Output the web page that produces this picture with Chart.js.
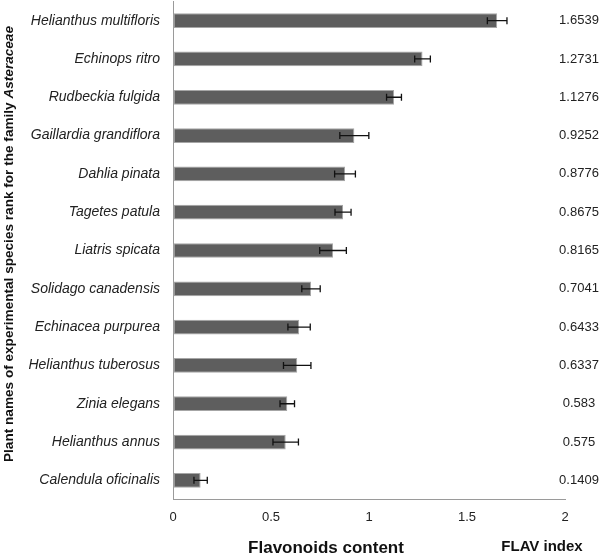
<!DOCTYPE html>
<html>
<head>
<meta charset="utf-8">
<script src="https://cdn.jsdelivr.net/npm/chart.js@4.4.1/dist/chart.umd.min.js"></script>
<style>
  html, body { margin: 0; padding: 0; background: #fff; }
  #wrap { width: 600px; height: 556px; position: relative; }
</style>
</head>
<body>
<div id="wrap"><canvas id="flavChart"></canvas></div>
<script>
// species, top to bottom
const species = [
  "Helianthus multifloris",
  "Echinops ritro",
  "Rudbeckia fulgida",
  "Gaillardia grandiflora",
  "Dahlia pinata",
  "Tagetes patula",
  "Liatris spicata",
  "Solidago canadensis",
  "Echinacea purpurea",
  "Helianthus tuberosus",
  "Zinia elegans",
  "Helianthus annus",
  "Calendula oficinalis"
];

// flavonoids content (FLAV index)
const flavValues = [1.6539, 1.2731, 1.1276, 0.9252, 0.8776, 0.8675, 0.8165, 0.7041, 0.6433, 0.6337, 0.583, 0.575, 0.1409];

// labels printed on the right, as in the figure
const flavLabels = ["1.6539", "1.2731", "1.1276", "0.9252", "0.8776", "0.8675", "0.8165", "0.7041", "0.6433", "0.6337", "0.583", "0.575", "0.1409"];

// error bar half widths
const flavErrors = [0.05, 0.04, 0.038, 0.074, 0.053, 0.041, 0.068, 0.047, 0.057, 0.07, 0.037, 0.065, 0.034];

// x axis
const xMin = 0;
const xMax = 2;
const xStep = 0.5;

const FONT = "'Liberation Sans', Arial, sans-serif";

// error bars + right labels + axis titles
const extrasPlugin = {
  id: "extras",
  afterDatasetsDraw(chart) {
    const { ctx, chartArea, scales } = chart;
    const x = scales.x, y = scales.y;

    // error bars
    ctx.save();
    ctx.strokeStyle = "#111";
    ctx.lineWidth = 1.3;
    flavValues.forEach((v, i) => {
      const yc = y.getPixelForValue(i);
      const x1 = x.getPixelForValue(v - flavErrors[i]);
      const x2 = x.getPixelForValue(v + flavErrors[i]);
      ctx.beginPath();
      ctx.moveTo(x1, yc); ctx.lineTo(x2, yc);
      ctx.moveTo(x1, yc - 3.5); ctx.lineTo(x1, yc + 3.5);
      ctx.moveTo(x2, yc - 3.5); ctx.lineTo(x2, yc + 3.5);
      ctx.stroke();
    });
    ctx.restore();

    // FLAV index values on the right
    ctx.save();
    ctx.fillStyle = "#222";
    ctx.font = "13px " + FONT;
    ctx.textAlign = "center";
    ctx.textBaseline = "middle";
    flavLabels.forEach((lbl, i) => {
      ctx.fillText(lbl, chartArea.right + 14, y.getPixelForValue(i));
    });
    ctx.restore();

    // bottom titles
    ctx.save();
    ctx.fillStyle = "#111";
    ctx.font = "bold 17px " + FONT;
    ctx.textAlign = "center";
    ctx.textBaseline = "middle";
    ctx.fillText("Flavonoids content", 326, 548);
    ctx.font = "bold 15px " + FONT;
    ctx.fillText("FLAV index", 542, 547);
    ctx.restore();

    // rotated y title, family name in italics
    ctx.save();
    const part1 = "Plant names of experimental species rank for the family ";
    const part2 = "Asteraceae";
    const f1 = "bold 13.6px " + FONT;
    const f2 = "italic bold 13.6px " + FONT;
    ctx.font = f1;
    const w1 = ctx.measureText(part1).width;
    ctx.font = f2;
    const w2 = ctx.measureText(part2).width;
    ctx.translate(9, 244);
    ctx.rotate(-Math.PI / 2);
    ctx.fillStyle = "#111";
    ctx.textBaseline = "middle";
    ctx.textAlign = "left";
    const start = -(w1 + w2) / 2;
    ctx.font = f1;
    ctx.fillText(part1, start, 0);
    ctx.font = f2;
    ctx.fillText(part2, start + w1, 0);
    ctx.restore();
  }
};

const ctx = document.getElementById("flavChart").getContext("2d");
new Chart(ctx, {
  type: "bar",
  data: {
    labels: species,
    datasets: [{
      data: flavValues,
      backgroundColor: "#5e5e5e",
      borderColor: "#a6a6a6",
      borderWidth: 1,
      borderSkipped: false,
      categoryPercentage: 1,
      barPercentage: 0.385
    }]
  },
  options: {
    indexAxis: "y",
    responsive: true,
    maintainAspectRatio: false,
    animation: false,
    layout: { padding: { top: 1.5, right: 35, left: 0, bottom: 0 } },
    plugins: {
      legend: { display: false },
      tooltip: { enabled: false }
    },
    scales: {
      x: {
        min: xMin,
        max: xMax,
        ticks: {
          stepSize: xStep,
          color: "#222",
          padding: 10,
          font: { family: FONT, size: 13 },
          callback: (v) => String(Number(v))
        },
        grid: { drawOnChartArea: false, drawTicks: false },
        border: { display: true, color: "#9a9a9a", width: 1 },
        afterFit: (scale) => { scale.height = 56.5; }
      },
      y: {
        ticks: {
          color: "#222",
          padding: 13,
          font: { family: FONT, size: 14, style: "italic" }
        },
        grid: { drawOnChartArea: false, drawTicks: false },
        border: { display: true, color: "#9a9a9a", width: 1 },
        afterFit: (scale) => {
          scale.width = 173;
          scale.paddingTop = 0;
          scale.paddingBottom = 0;
        }
      }
    }
  },
  plugins: [extrasPlugin]
});
</script>
</body>
</html>
